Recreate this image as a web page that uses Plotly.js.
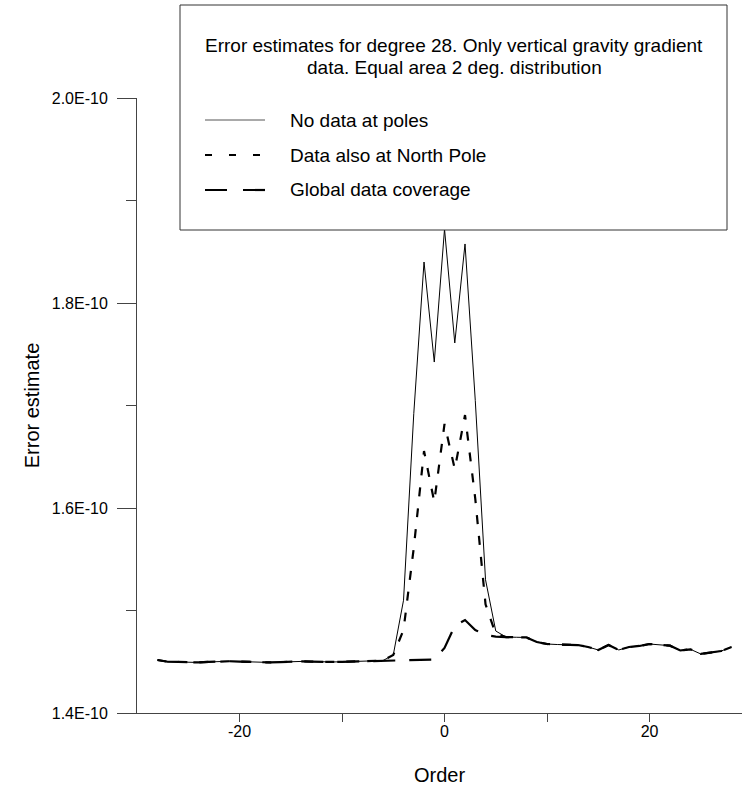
<!DOCTYPE html>
<html>
<head>
<meta charset="utf-8">
<script src="https://cdn.plot.ly/plotly-3.0.1.min.js"></script>
<style>html,body{margin:0;padding:0;background:#fff;}#chart{width:742px;height:789px;}</style>
</head>
<body>
<div id="chart"></div>
<script>
// Order (x values)
const orders = [-28,-27,-26,-25,-24,-23,-22,-21,-20,-19,-18,-17,-16,-15,-14,-13,-12,-11,-10,-9,-8,-7,-6,-5,-4,-3,-2,-1,0,1,2,3,4,5,6,7,8,9,10,11,12,13,14,15,16,17,18,19,20,21,22,23,24,25,26,27,28];

// Error estimates, in units of 1E-10
const noDataAtPoles = [1.4517,1.4500,1.4498,1.4495,1.4493,1.4498,1.4502,1.4505,1.4502,1.4498,1.4494,1.4493,1.4497,1.4502,1.4503,1.4502,1.4498,1.4498,1.4499,1.4502,1.4503,1.4507,1.4512,
  1.4566,1.510,1.692,1.840,1.7424,1.8722,1.761,1.8576,1.705,1.530,1.480,
  1.4741,1.4739,1.4737,1.4693,1.4673,1.4668,1.4663,1.4663,1.4644,1.4615,1.4663,1.4615,1.4644,1.4654,1.4673,1.4663,1.4657,1.4610,1.4621,1.4576,1.4590,1.4605,1.4644];

const northPoleData = [1.4517,1.4500,1.4498,1.4495,1.4493,1.4498,1.4502,1.4505,1.4502,1.4498,1.4494,1.4493,1.4497,1.4502,1.4503,1.4502,1.4498,1.4498,1.4499,1.4502,1.4503,1.4507,1.4512,
  1.4566,1.481,1.561,1.6556,1.606,1.682,1.638,1.6907,1.609,1.506,1.477,
  1.4741,1.4739,1.4737,1.4693,1.4673,1.4668,1.4663,1.4663,1.4644,1.4615,1.4663,1.4615,1.4644,1.4654,1.4673,1.4663,1.4657,1.4610,1.4621,1.4576,1.4590,1.4605,1.4644];

const globalCoverage = [1.4517,1.4500,1.4498,1.4495,1.4493,1.4498,1.4502,1.4505,1.4502,1.4498,1.4494,1.4493,1.4497,1.4502,1.4503,1.4502,1.4498,1.4498,1.4499,1.4502,1.4503,1.4507,1.4512,
  1.4515,1.4517,1.4518,1.4519,1.4522,1.4634,1.4849,1.4907,1.481,1.476,1.4746,
  1.4741,1.4739,1.4737,1.4693,1.4673,1.4668,1.4663,1.4663,1.4644,1.4615,1.4663,1.4615,1.4644,1.4654,1.4673,1.4663,1.4657,1.4610,1.4621,1.4576,1.4590,1.4605,1.4644];

const seriesNames = ["No data at poles", "Data also at North Pole", "Global data coverage"];
const legendTitle = ["Error estimates for degree 28. Only vertical gravity gradient", "data. Equal area 2 deg. distribution"];

const xTickVals = [-20,-10,0,10,20];
const xTickText = ["-20","","0","","20"];
const yTickVals = [1.4e-10,1.6e-10,1.8e-10,2.0e-10];
const yTickText = ["1.4E-10","1.6E-10","1.8E-10","2.0E-10"];

const E = 1e-10;
const FONT = "Liberation Sans, Arial, sans-serif";

// plot area in pixels
const L = 137, R = 742, T = 98, B = 713, W = 742, H = 789;
const px = x => (x - L) / (R - L);
const py = y => (B - y) / (B - T);

const traces = [
  {x: orders, y: noDataAtPoles.map(v => v*E), mode: "lines", name: seriesNames[0],
   line: {color: "#000", width: 1}, showlegend: false},
  {x: orders, y: northPoleData.map(v => v*E), mode: "lines", name: seriesNames[1],
   line: {color: "#000", width: 2.2, dash: "9px,12px"}, showlegend: false},
  {x: orders, y: globalCoverage.map(v => v*E), mode: "lines", name: seriesNames[2],
   line: {color: "#000", width: 2.2, dash: "22px,14px"}, showlegend: false}
];

const LF = 19;
const shapes = [
  {type: "rect", xref: "paper", yref: "paper", x0: px(180), x1: px(727), y0: py(5), y1: py(230),
   line: {color: "#333", width: 1}, fillcolor: "#fff", layer: "above"},
  {type: "line", xref: "paper", yref: "paper", x0: px(205), x1: px(265), y0: py(120), y1: py(120),
   line: {color: "#555", width: 1}, layer: "above"},
  {type: "line", xref: "paper", yref: "paper", x0: px(205), x1: px(265), y0: py(155), y1: py(155),
   line: {color: "#000", width: 2.2, dash: "7px,17px"}, layer: "above"},
  {type: "line", xref: "paper", yref: "paper", x0: px(205), x1: px(265), y0: py(190), y1: py(190),
   line: {color: "#000", width: 2.2, dash: "22px,16px"}, layer: "above"}
];

const annotations = [
  {xref: "paper", yref: "paper", x: px(454), y: py(45), text: legendTitle[0], showarrow: false,
   xanchor: "center", yanchor: "middle", font: {family: FONT, size: LF, color: "#000"}},
  {xref: "paper", yref: "paper", x: px(454), y: py(67), text: legendTitle[1], showarrow: false,
   xanchor: "center", yanchor: "middle", font: {family: FONT, size: LF, color: "#000"}},
  {xref: "paper", yref: "paper", x: px(288), y: py(120), text: seriesNames[0], showarrow: false,
   xanchor: "left", yanchor: "middle", font: {family: FONT, size: LF, color: "#000"}},
  {xref: "paper", yref: "paper", x: px(288), y: py(155), text: seriesNames[1], showarrow: false,
   xanchor: "left", yanchor: "middle", font: {family: FONT, size: LF, color: "#000"}},
  {xref: "paper", yref: "paper", x: px(288), y: py(190), text: seriesNames[2], showarrow: false,
   xanchor: "left", yanchor: "middle", font: {family: FONT, size: LF, color: "#000"}}
];

const layout = {
  width: W, height: H,
  margin: {l: L, r: W - R, t: T, b: H - B, pad: 0},
  paper_bgcolor: "#fff", plot_bgcolor: "#fff",
  font: {family: FONT, color: "#000"},
  showlegend: false,
  xaxis: {
    range: [-30, 29.02], showgrid: false, zeroline: false,
    showline: true, linecolor: "#444", linewidth: 1,
    ticks: "outside", ticklen: 8, tickcolor: "#444", tickwidth: 1,
    tickmode: "array", tickvals: xTickVals, ticktext: xTickText,
    tickfont: {family: FONT, size: 16, color: "#000"},
    ticklabelstandoff: -4,
    title: {text: "Order", font: {family: FONT, size: 20, color: "#000"}, standoff: 28}
  },
  yaxis: {
    range: [1.4e-10, 2.0e-10], showgrid: false, zeroline: false,
    showline: true, linecolor: "#444", linewidth: 1,
    ticks: "outside", ticklen: 19, tickcolor: "#444", tickwidth: 1,
    tickmode: "array", tickvals: yTickVals, ticktext: yTickText,
    tickfont: {family: FONT, size: 16, color: "#000"},
    ticklabelstandoff: 6,
    minor: {dtick: 0.1e-10, tick0: 1.4e-10, ticks: "outside", ticklen: 10, tickcolor: "#444", showgrid: false},
    title: {text: "Error estimate", font: {family: FONT, size: 20, color: "#000"}, standoff: 6}
  },
  shapes: shapes,
  annotations: annotations
};

Plotly.newPlot("chart", traces, layout, {displayModeBar: false, staticPlot: true});
</script>
</body>
</html>
